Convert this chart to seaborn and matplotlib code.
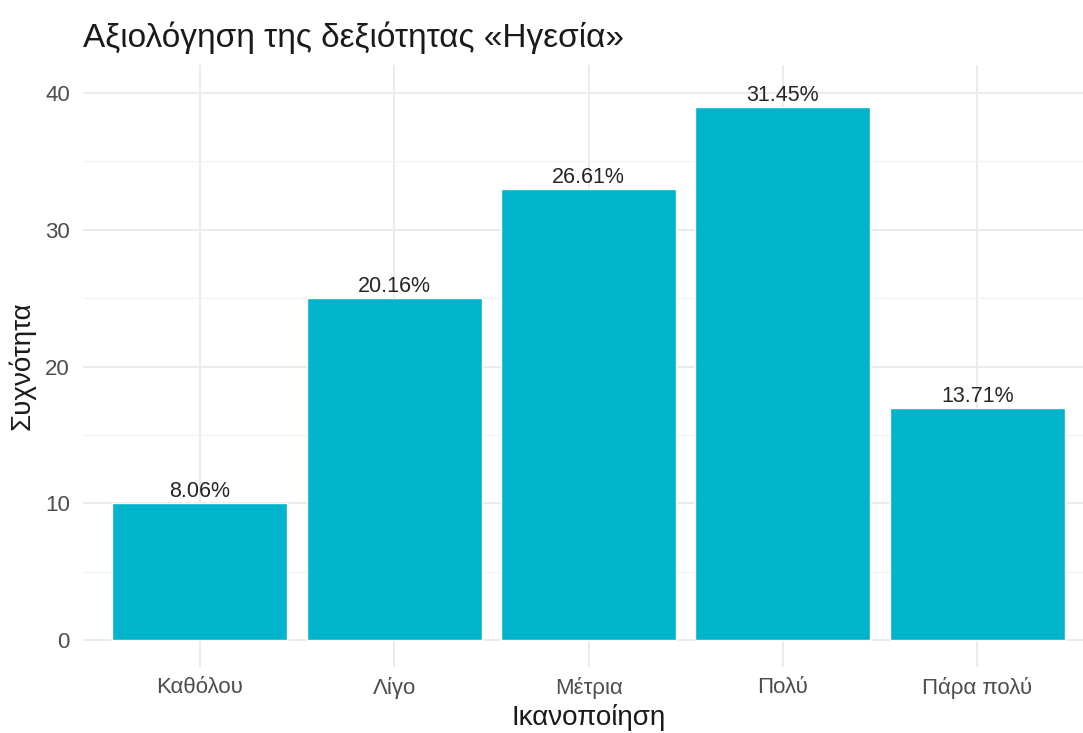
import pandas as pd
import matplotlib
matplotlib.use("Agg")
import matplotlib.pyplot as plt
import seaborn as sns
from matplotlib.ticker import MultipleLocator

categories = ["Καθόλου", "Λίγο", "Μέτρια", "Πολύ", "Πάρα πολύ"]
counts = [10, 25, 33, 39, 17]
pct_labels = ["8.06%", "20.16%", "26.61%", "31.45%", "13.71%"]

df = pd.DataFrame({"level": categories, "n": counts})

sns.set_theme(style="white")
plt.rcParams["font.family"] = ["Liberation Sans", "DejaVu Sans"]

W, H = 1083, 733
fig = plt.figure(figsize=(W / 100, H / 100), dpi=100)
# panel runs slightly past the right edge, as in the reference
ax = fig.add_axes([83 / W, (H - 667) / H, (1094 - 83) / W, (667 - 65) / H])

sns.barplot(data=df, x="level", y="n", color="#00B4CC", saturation=1,
            width=0.9, ax=ax, zorder=3)

for i, (v, lab) in enumerate(zip(counts, pct_labels)):
    ax.annotate(lab, (i, v), xytext=(0, 4.3), textcoords="offset points",
                ha="center", va="baseline", fontsize=15.5,
                color="#262626", zorder=4)

ax.set_xlim(-0.6, 4.6)
ax.set_ylim(-1.97, 42.05)
ax.yaxis.set_major_locator(MultipleLocator(10))
ax.yaxis.set_minor_locator(MultipleLocator(5))
ax.grid(which="major", axis="both", color="#EBEBEB", linewidth=1.4, zorder=0)
ax.grid(which="minor", axis="y", color="#F2F2F2", linewidth=0.8, zorder=0)
for s in ax.spines.values():
    s.set_visible(False)
ax.tick_params(axis="both", which="both", length=0, labelsize=16,
               labelcolor="#4D4D4D")
ax.tick_params(axis="x", pad=7)
ax.tick_params(axis="y", pad=9.5)

ax.set_xlabel("Ικανοποίηση", fontsize=20, color="#1a1a1a", va="baseline")
ax.xaxis.set_label_coords(0.5, (667 - 725) / (667 - 65))
ax.set_ylabel("Συχνότητα", fontsize=20, color="#1a1a1a", va="center")
ax.yaxis.set_label_coords((22 - 83) / (1094 - 83), 0.5)

fig.text(83 / W, 1 - 47 / H, "Αξιολόγηση της δεξιότητας «Ηγεσία»",
         fontsize=24, color="#1a1a1a", ha="left", va="baseline")

fig.savefig("out.png", dpi=100)
